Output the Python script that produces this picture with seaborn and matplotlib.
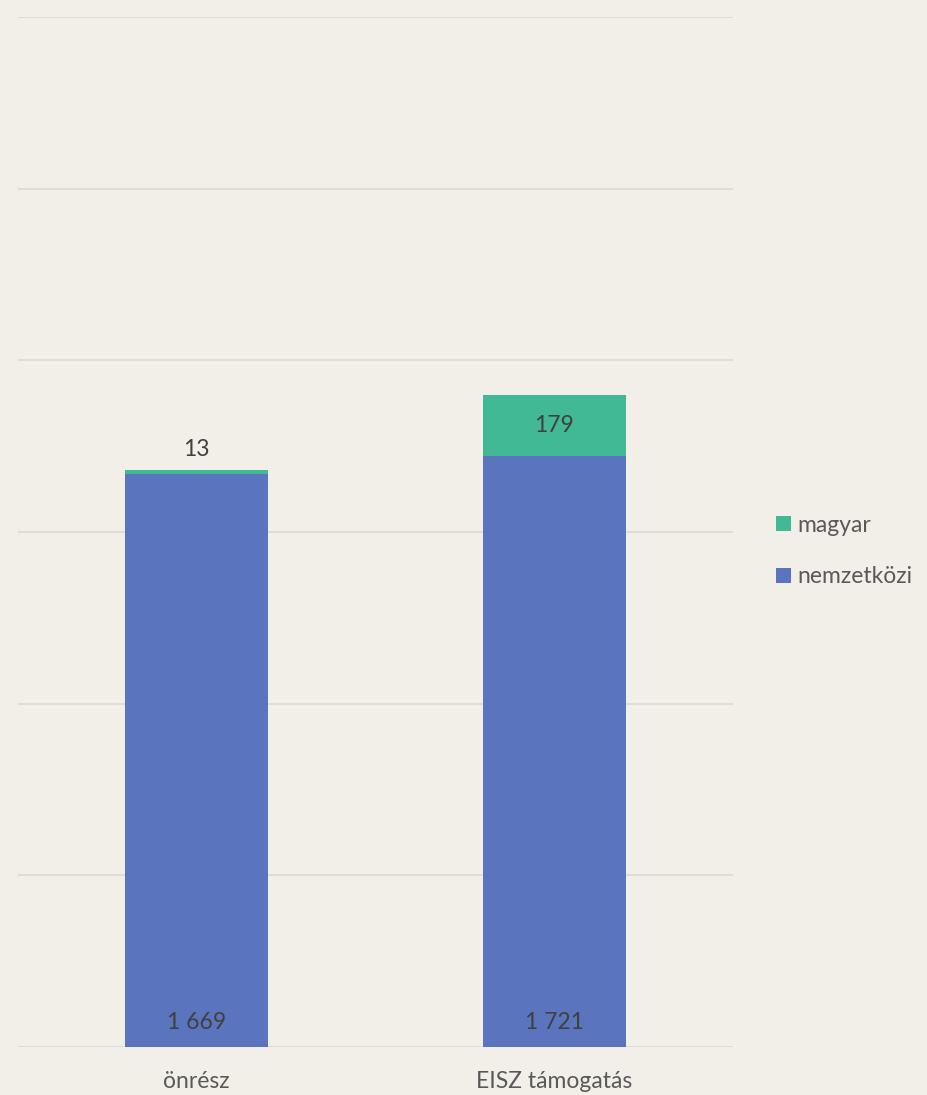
import matplotlib
matplotlib.use("Agg")
import matplotlib.pyplot as plt
import seaborn as sns
import pandas as pd
from matplotlib.patches import Patch

categories = ["önrész", "EISZ támogatás"]
nemzetkozi = [1669, 1721]
magyar = [13, 179]
series_names = ["magyar", "nemzetközi"]

BG = "#f2efe9"
BLUE = "#5a74be"
GREEN = "#42b995"
GRID = "#d9d9d9"
FS = 16.5

sns.set_theme(style="white")
plt.rcParams['font.family'] = ['Lato', 'DejaVu Sans']

df = pd.DataFrame({
    "cat": categories,
    "nemzetkozi": nemzetkozi,
    "magyar": magyar,
})
df["total"] = df["nemzetkozi"] + df["magyar"]

fig = plt.figure(figsize=(9.27, 10.95), dpi=100, facecolor=BG)
ax = fig.add_axes([18/927, 48/1095, (733-18)/927, (1047-17)/1095])
ax.set_facecolor(BG)

sns.barplot(data=df, x="cat", y="total", color=GREEN, width=0.4,
            saturation=1, ax=ax, linewidth=0)
sns.barplot(data=df, x="cat", y="nemzetkozi", color=BLUE, width=0.4,
            saturation=1, ax=ax, linewidth=0)

ax.set_ylim(0, 3000)
ax.set_xlim(-0.5, 1.5)
ax.set_yticks(range(0, 3001, 500))
ax.yaxis.grid(True, color=GRID, linewidth=1.2)
ax.set_axisbelow(True)
ax.set_yticklabels([])
ax.tick_params(axis="y", length=0)
ax.tick_params(axis="x", length=0, pad=17, labelsize=FS, labelcolor="#595959")
ax.set_xlabel("")
ax.set_ylabel("")
for s in ax.spines.values():
    s.set_visible(False)

def fmt(v):
    return f"{v:,}".replace(",", " ")

for i, (n, m) in enumerate(zip(nemzetkozi, magyar)):
    ax.text(i, 70, fmt(n), ha="center", va="center", fontsize=FS, color="#404040")
    if m < 60:
        ax.text(i, n + m + 57, fmt(m), ha="center", va="center", fontsize=FS, color="#404040")
    else:
        ax.text(i, n + m / 2, fmt(m), ha="center", va="center", fontsize=FS, color="#404040")

handles = [Patch(facecolor=GREEN, edgecolor="none"), Patch(facecolor=BLUE, edgecolor="none")]
fig.legend(handles, series_names, loc="center left", bbox_to_anchor=(776/927, 1 - 551/1095),
           frameon=False, fontsize=FS, labelcolor="#595959", handlelength=0.65,
           handleheight=0.65, handletextpad=0.3, labelspacing=1.35,
           borderpad=0, borderaxespad=0)

fig.savefig("out.png", dpi=100, facecolor=BG)
